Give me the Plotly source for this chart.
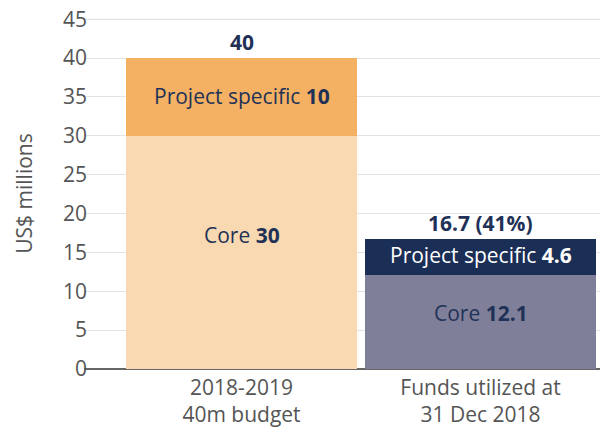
import plotly.graph_objects as go

categories = ["2018-2019<br>40m budget", "Funds utilized at<br>31 Dec 2018"]
core = [30, 12.1]
project_specific = [10, 4.6]
total_labels = ["40", "16.7 (41%)"]
y_ticks = [0, 5, 10, 15, 20, 25, 30, 35, 40, 45]

core_colors = ["#F9D9B1", "#7F7F99"]
proj_colors = ["#F4B163", "#1B2E55"]
core_text_colors = ["#1F3157", "#1F3157"]
proj_text_colors = ["#1F3157", "#FFFFFF"]

NAVY = "#1F3157"
GREY = "#555555"
GRID = "#E3E3E3"
FONT = "Open Sans, Noto Sans, sans-serif"
SIZE = 21

x = list(range(len(categories)))

fig = go.Figure()
fig.add_trace(go.Bar(x=x, y=core, marker=dict(color=core_colors, line_width=0),
                     width=0.97, hoverinfo="skip"))
fig.add_trace(go.Bar(x=x, y=project_specific, marker=dict(color=proj_colors, line_width=0),
                     width=0.97, hoverinfo="skip"))

for i in x:
    c, p = core[i], project_specific[i]
    # core label sits a little above the middle of its segment
    fig.add_annotation(x=i, y=c / 2, yshift=17 if c > 20 else 9, showarrow=False,
                       text=f"Core <b>{c:g}</b>",
                       font=dict(size=SIZE, color=core_text_colors[i], family=FONT))
    fig.add_annotation(x=i, y=c + p / 2, yshift=1 if p > 6 else 2, showarrow=False,
                       text=f"Project specific <b>{p:g}</b>",
                       font=dict(size=SIZE, color=proj_text_colors[i], family=FONT))
    fig.add_annotation(x=i, y=c + p, yanchor="bottom", yshift=0, showarrow=False,
                       text=f"<b>{total_labels[i]}</b>",
                       font=dict(size=SIZE, color=NAVY, family=FONT))

# plotly drops the gridline at the top edge, so draw it by hand
fig.add_shape(type="line", xref="paper", x0=0, x1=1, yref="y", y0=y_ticks[-1], y1=y_ticks[-1],
              line=dict(color=GRID, width=1), layer="below")

fig.update_layout(
    barmode="stack",
    width=600, height=429,
    margin=dict(l=84, r=0, t=18, b=60),
    paper_bgcolor="white", plot_bgcolor="white",
    showlegend=False,
    font=dict(family=FONT, size=SIZE, color=GREY),
    xaxis=dict(
        range=[-0.659, 1.5], tickmode="array", tickvals=x, ticktext=categories,
        showgrid=False, zeroline=False, showline=False, automargin=False,
        tickfont=dict(size=SIZE, color=GREY), ticks="", ticklabelstandoff=4,
    ),
    yaxis=dict(
        range=[0, 45.15], tickmode="array", tickvals=y_ticks,
        showgrid=True, gridcolor=GRID, gridwidth=1,
        zeroline=True, zerolinecolor="#666666", zerolinewidth=2, automargin=False,
        tickfont=dict(size=SIZE, color=GREY), ticks="", ticklabelstandoff=-4,
        title=dict(text="US$ millions", font=dict(size=SIZE, color=GREY), standoff=24),
    ),
)

# drop the default body margin so the figure sits at the page's top-left corner
fig.write_html("out.html", config={"displayModeBar": False},
               post_script="document.body.style.margin='0';")
